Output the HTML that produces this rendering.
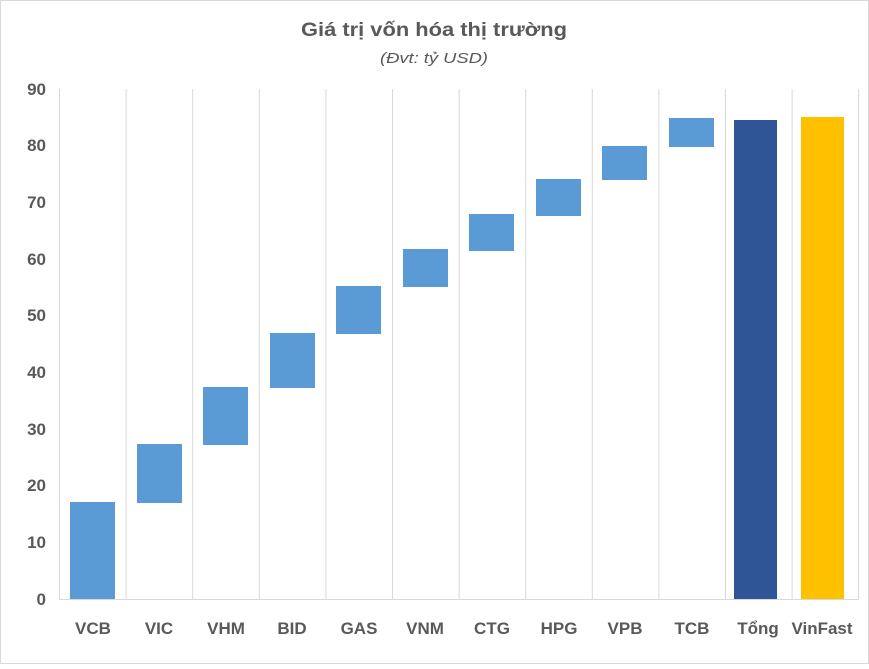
<!DOCTYPE html>
<html><head><meta charset="utf-8"><style>
html,body{margin:0;padding:0;background:#fff}
body{width:869px;height:664px;overflow:hidden}
text{font-family:"Liberation Sans",sans-serif}
</style></head><body>
<svg width="869" height="664" xmlns="http://www.w3.org/2000/svg">
<rect x="0.5" y="0.5" width="868" height="663" fill="#fff" stroke="#d9d9d9"/>
<text x="434" y="36" text-anchor="middle" font-size="19" font-weight="bold" fill="#595959" textLength="266" lengthAdjust="spacingAndGlyphs">Giá trị vốn hóa thị trường</text>
<text x="434" y="63" text-anchor="middle" font-size="15" font-style="italic" fill="#595959" textLength="108" lengthAdjust="spacingAndGlyphs">(Đvt: tỷ USD)</text>
<g stroke="#d9d9d9" stroke-width="1">
<line x1="59.5" y1="89" x2="59.5" y2="599"/><line x1="126.1" y1="89" x2="126.1" y2="599"/><line x1="192.7" y1="89" x2="192.7" y2="599"/><line x1="259.3" y1="89" x2="259.3" y2="599"/><line x1="325.9" y1="89" x2="325.9" y2="599"/><line x1="392.5" y1="89" x2="392.5" y2="599"/><line x1="459.1" y1="89" x2="459.1" y2="599"/><line x1="525.7" y1="89" x2="525.7" y2="599"/><line x1="592.3" y1="89" x2="592.3" y2="599"/><line x1="658.9" y1="89" x2="658.9" y2="599"/><line x1="725.5" y1="89" x2="725.5" y2="599"/><line x1="792.1" y1="89" x2="792.1" y2="599"/><line x1="858.5" y1="89" x2="858.5" y2="599"/>
<line x1="59" y1="599.5" x2="859" y2="599.5"/>
</g>
<g font-size="17" font-weight="bold" fill="#595959" text-anchor="end">
<text x="46" y="605">0</text><text x="46" y="548">10</text><text x="46" y="491">20</text><text x="46" y="435">30</text><text x="46" y="378">40</text><text x="46" y="321">50</text><text x="46" y="265">60</text><text x="46" y="208">70</text><text x="46" y="151">80</text><text x="46" y="95">90</text>
</g>
<g fill="#5b9bd5">
<rect x="70" y="502" width="45" height="97"/>
<rect x="137" y="444" width="45" height="59"/>
<rect x="203" y="387" width="45" height="58"/>
<rect x="270" y="333" width="45" height="55"/>
<rect x="336" y="286" width="45" height="48"/>
<rect x="403" y="249" width="45" height="38"/>
<rect x="469" y="214" width="45" height="37"/>
<rect x="536" y="179" width="45" height="37"/>
<rect x="602" y="146" width="45" height="34"/>
<rect x="669" y="118" width="45" height="29"/>
</g>
<rect x="734" y="120" width="43" height="479" fill="#2f5597"/>
<rect x="801" y="117" width="43" height="482" fill="#ffc000"/>
<g font-size="17" font-weight="bold" fill="#595959" text-anchor="middle">
<text x="93" y="634">VCB</text><text x="159" y="634">VIC</text><text x="226" y="634">VHM</text><text x="292" y="634">BID</text><text x="359" y="634">GAS</text><text x="425" y="634">VNM</text><text x="492" y="634">CTG</text><text x="559" y="634">HPG</text><text x="625" y="634">VPB</text><text x="692" y="634">TCB</text><text x="758" y="634">Tổng</text><text x="822" y="634">VinFast</text>
</g>
</svg>
</body></html>
